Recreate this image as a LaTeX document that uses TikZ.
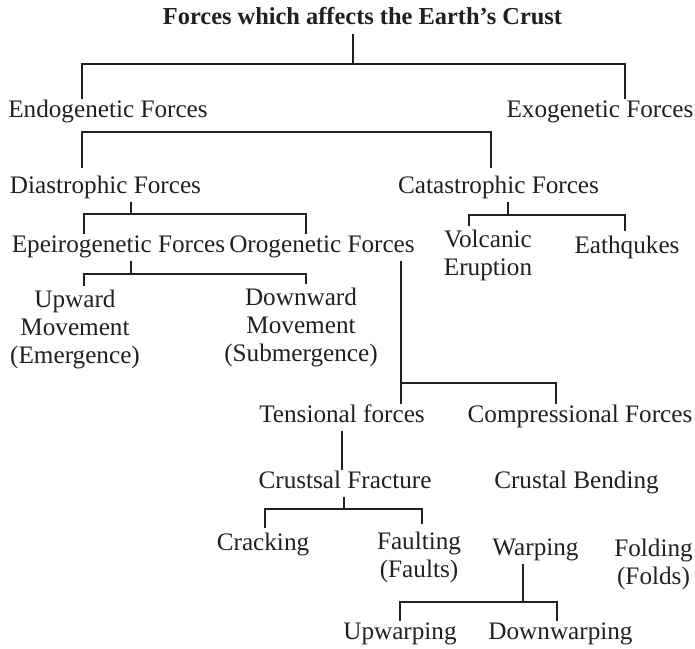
\documentclass[tikz,border=0pt]{standalone}
\usepackage{fontspec}
\setmainfont{Liberation Serif}
\usepackage{tikz}
\definecolor{ink}{HTML}{231F20}
\tikzset{
  lbl/.style={inner sep=0pt, outer sep=2pt, text=ink, anchor=base,
    font=\fontsize{12.6}{13.8}\selectfont, text height=0.7em, text depth=0.25em},
  lbl2/.style={inner sep=0pt, outer sep=2pt, text=ink, anchor=north, align=center,
    font=\fontsize{12.6}{13.8}\selectfont},
  bar/.style={draw=ink, line width=0.8pt}
}

\begin{document}
\begin{tikzpicture}[x=0.5pt, y=-0.5pt]
\useasboundingbox (0,0) rectangle (695,648);

\node[lbl, font=\fontsize{12.2}{13.8}\selectfont\bfseries] (title) at (362.5, 25) {Forces which affects the Earth’s Crust};

\node[lbl] (endo) at (108, 117) {Endogenetic Forces};
\node[lbl] (exo) at (600, 117) {Exogenetic Forces};

\node[lbl] (dia) at (105.5, 193) {Diastrophic Forces};
\node[lbl] (cata) at (498.5, 193) {Catastrophic Forces};

\node[lbl] (epei) at (118.5, 252) {Epeirogenetic Forces};
\node[lbl] (oro) at (322, 252) {Orogenetic Forces};
\node[lbl2] (volc) at (488, 226.4) {Volcanic\\Eruption};
\node[lbl] (quake) at (627, 253) {Eathqukes};

\node[lbl2] (up) at (75, 286.4) {Upward\\Movement\\(Emergence)};
\node[lbl2] (down) at (301, 284.4) {Downward\\Movement\\(Submergence)};

\node[lbl] (tens) at (342, 422) {Tensional forces};
\node[lbl] (comp) at (580, 422) {Compressional Forces};

\node[lbl] (frac) at (345, 488) {Crustsal Fracture};
\node[lbl] (bend) at (576.5, 488) {Crustal Bending};

\node[lbl] (crack) at (263, 550) {Cracking};
\node[lbl2] (fault) at (419, 528.4) {Faulting\\(Faults)};
\node[lbl] (warp) at (535.5, 555) {Warping};
\node[lbl2] (fold) at (653.5, 535.4) {Folding\\(Folds)};

\node[lbl] (upw) at (400, 639) {Upwarping};
\node[lbl] (downw) at (560.5, 639) {Downwarping};

% title
\draw[bar] ([xshift=-4.75pt]title.south) -- ++(0,30) coordinate (j1);
\draw[bar] ([xshift=-13pt]endo.north) |- (j1) -| ([xshift=12.5pt]exo.north);

% endogenetic
\draw[bar] ([xshift=-11.75pt,yshift=3.5pt]dia.north) |- ([yshift=-3pt]endo.south) -| ([xshift=-3.75pt,yshift=3.5pt]cata.north);

% diastrophic
\draw[bar] ([xshift=12.75pt]dia.south) -- ++(0,12) coordinate (j3);
\draw[bar] ([xshift=-17.25pt]epei.north) |- (j3) -| ([xshift=-8pt]oro.north);
\draw[bar] ([xshift=6.25pt]epei.south) -- ++(0,13) coordinate (j4);
\draw[bar] ([xshift=4.5pt]up.north) |- (j4) -| ([xshift=2.5pt]down.north);

% catastrophic
\draw[bar] ([xshift=4.75pt]cata.south) -- ++(0,13) coordinate (j5);
\draw[bar] ([xshift=-9.5pt]volc.north) |- (j5) -| ([xshift=-1pt,yshift=2pt]quake.north);

% orogenetic
\draw[bar] ([xshift=39.5pt]oro.south) -- ([xshift=39.5pt]oro.south |- tens.north);
\draw[bar] ([xshift=39.5pt]oro.south) ++(0,122) -| ([xshift=-12pt]comp.north);

% tensional
\draw[bar] (tens.south) -- (tens.south |- frac.north);
\draw[bar] ([xshift=-0.5pt]frac.south) -- ++(0,12) coordinate (j8);
\draw[bar] ([xshift=1pt,yshift=2pt]crack.north) |- (j8) -| ([xshift=1.5pt,yshift=2pt]fault.north);

% warping
\draw[bar] ([xshift=-6.25pt]warp.south) -- ++(0,38) coordinate (j9);
\draw[bar] (upw.north) |- (j9) -| ([xshift=-1.75pt]downw.north);
\end{tikzpicture}
\end{document}
